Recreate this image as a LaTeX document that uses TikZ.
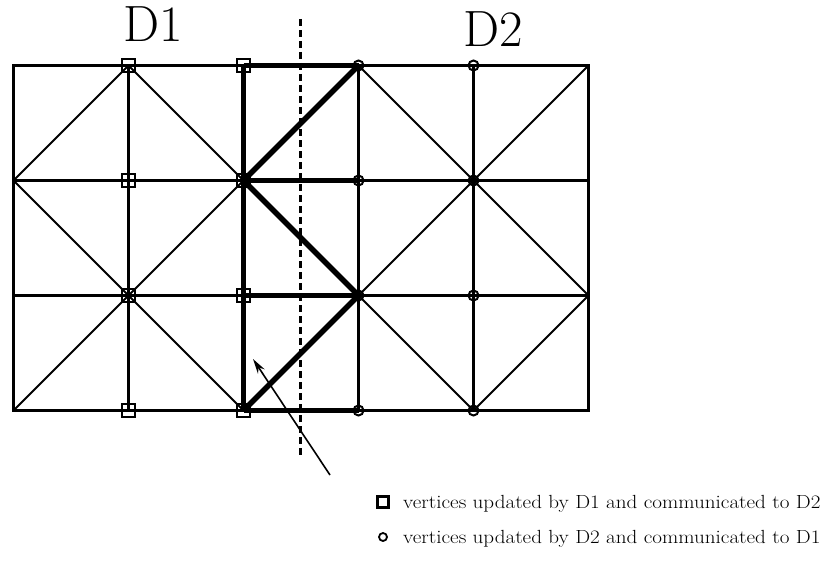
\documentclass[tikz,border=0pt]{standalone}
\usetikzlibrary{arrows.meta}
\begin{document}
\begin{tikzpicture}[x=1pt,y=-1pt,
  gridline/.style={line width=3.4pt},
  diagline/.style={line width=2pt},
  boldline/.style={line width=5.5pt},
  sqmark/.style={draw,line width=2.5pt,rectangle,minimum size=13pt,inner sep=0pt},
  cimark/.style={draw,line width=2pt,circle,minimum size=10pt,inner sep=0pt},
  dlabel/.style={font=\fontsize{51}{51}\selectfont,inner sep=0pt},
  legtext/.style={font=\fontsize{19}{22}\selectfont,anchor=base west,inner sep=0pt}]
\useasboundingbox (0,0) rectangle (828,578);
% vertices
\foreach \i/\x in {0/13.5,1/128.5,2/243.5,3/358.5,4/473.5,5/588.5}{
  \foreach \j/\y in {0/65.5,1/180.5,2/295.5,3/410.5}{
    \coordinate (v\i\j) at (\x,\y);
  }
}
% thin diagonals
\draw[diagline] (v01) -- (v10) -- (v21);
\draw[diagline] (v01) -- (v12) -- (v21);
\draw[diagline] (v03) -- (v12) -- (v23);
\draw[diagline] (v30) -- (v41) -- (v50);
\draw[diagline] (v32) -- (v41) -- (v52);
\draw[diagline] (v32) -- (v43) -- (v52);
% grid
\draw[gridline] (v00) rectangle (v53);
\foreach \j in {1,2}{ \draw[gridline] (v0\j) -- (v5\j); }
\foreach \i in {1,3,4}{ \draw[gridline] (v\i0) -- (v\i3); }
% bold interface strip
\draw[boldline] (v20) -- (v23);
\foreach \j in {0,1,2,3}{ \draw[boldline] (v2\j) -- (v3\j); }
\draw[boldline] (v21) -- (v30);
\draw[boldline] (v21) -- (v32) -- (v23);
% markers
\foreach \i in {1,2}{ \foreach \j in {0,1,2,3}{ \node[sqmark] (s\i\j) at (v\i\j) {}; } }
\foreach \i in {3,4}{ \foreach \j in {0,1,2,3}{ \node[cimark] (c\i\j) at (v\i\j) {}; } }
% dashed separator
\coordinate (dtop) at (300.5,19);
\coordinate (dbot) at (300.5,457);
\draw[line width=3.5pt,dash pattern=on 7pt off 4pt] (dtop) -- (dbot);
% arrow
\coordinate (atail) at (330,475);
\coordinate (ahead) at (253,359);
\draw[line width=1.6pt,-{Stealth[length=15pt,width=8pt]}] (atail) -- (ahead);
% labels
\node[dlabel] (d1) at (153.5,24.5) {D1};
\node[dlabel] (d2) at (493.5,29.5) {D2};
% legend
\node[sqmark,minimum size=11pt,line width=2.2pt] (lsq) at (383,502) {};
\node[legtext] (lt1) at (403,508) {\scalebox{1.11}[1]{vertices updated by D1 and communicated to D2}};
\node[cimark,minimum size=8pt,line width=1.8pt] (lci) at (383,537) {};
\node[legtext] (lt2) at (403,543) {\scalebox{1.11}[1]{vertices updated by D2 and communicated to D1}};
\end{tikzpicture}
\end{document}
